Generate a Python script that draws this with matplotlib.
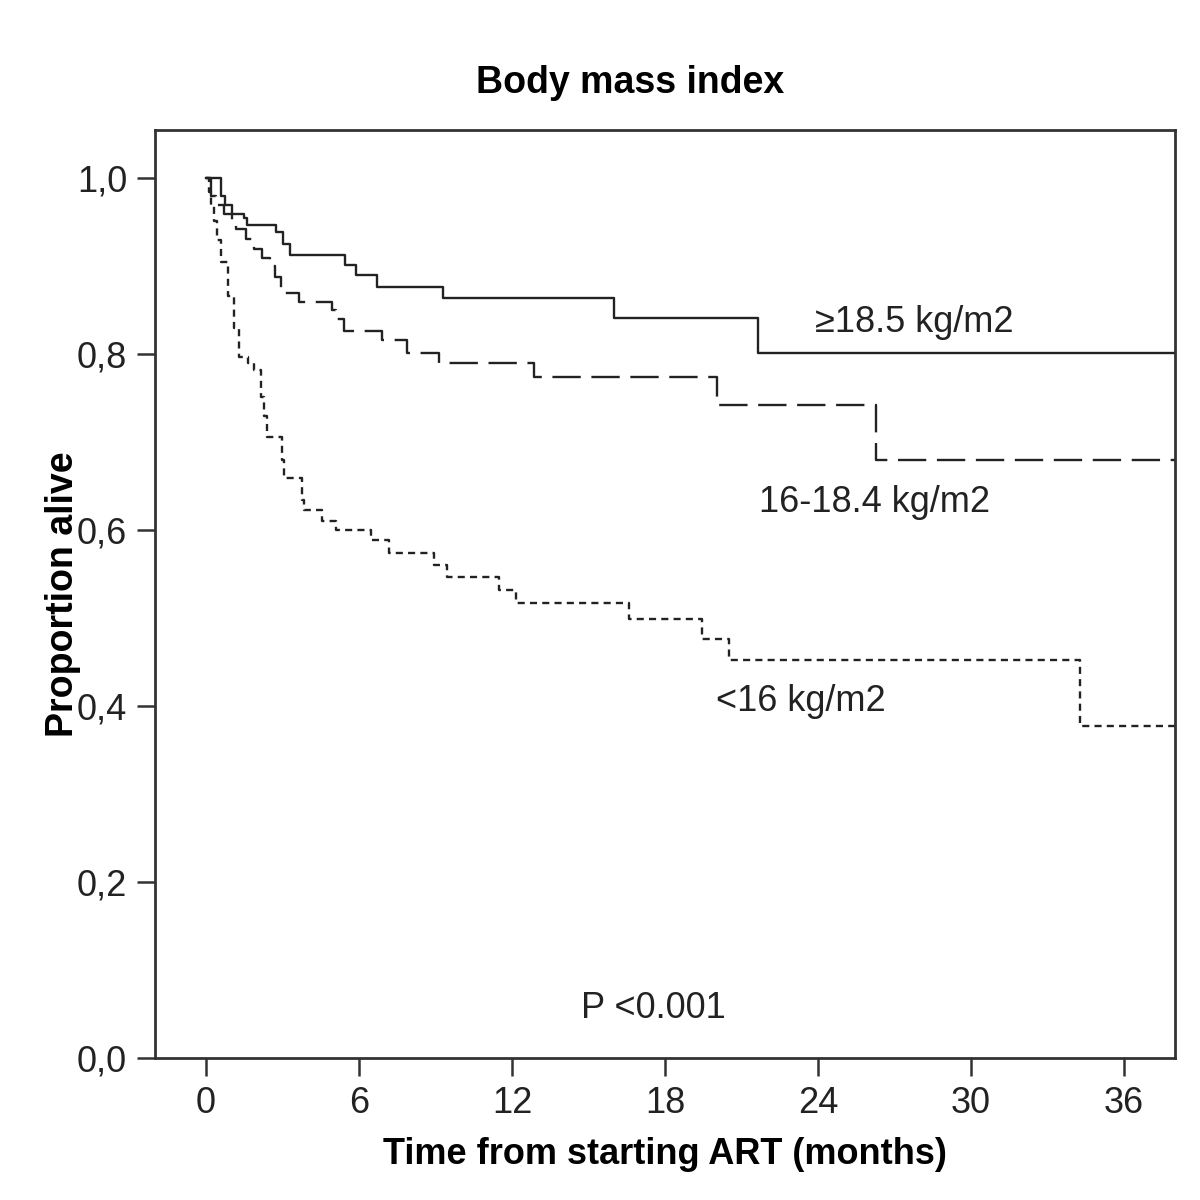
import matplotlib.pyplot as plt

plt.rcParams['font.family'] = ['Liberation Sans', 'DejaVu Sans']

# Kaplan-Meier step data (months, proportion alive)
t_high = [0, 0.6, 0.75, 1.0, 1.5, 1.6, 2.75, 3.0, 3.3, 5.45, 5.9, 6.7, 9.3, 16.0, 21.65, 38]
s_high = [1.0, 0.98, 0.97, 0.96, 0.955, 0.947, 0.939, 0.925, 0.9125, 0.902, 0.890, 0.877, 0.864, 0.841, 0.801, 0.801]

t_mid = [0, 0.2, 0.4, 0.7, 1.0, 1.18, 1.57, 1.9, 2.2, 2.5, 2.7, 2.95, 3.65, 4.94, 5.1, 5.41,
         6.9, 7.88, 9.14, 12.86, 20.04, 26.27, 38]
s_mid = [1.0, 0.98, 0.97, 0.96, 0.95, 0.942, 0.931, 0.92, 0.91, 0.90, 0.888, 0.870, 0.859, 0.85, 0.84, 0.826,
         0.816, 0.802, 0.790, 0.774, 0.742, 0.680, 0.680]

t_low = [0, 0.1, 0.2, 0.31, 0.45, 0.6, 0.86, 1.1, 1.29, 1.65, 1.88, 2.16, 2.27, 2.39, 2.98, 3.06,
         3.76, 3.84, 4.55, 5.1, 6.47, 7.18, 8.94, 9.45, 11.49, 12.16, 16.59, 19.45, 20.5, 34.27, 38]
s_low = [1.0, 0.985, 0.97, 0.952, 0.93, 0.905, 0.866, 0.83, 0.797, 0.79, 0.782, 0.751, 0.73, 0.706, 0.68, 0.659,
         0.634, 0.623, 0.611, 0.600, 0.589, 0.574, 0.560, 0.547, 0.532, 0.517, 0.499, 0.476, 0.452, 0.377, 0.377]

xticks = [0, 6, 12, 18, 24, 30, 36]
yticks = [0.0, 0.2, 0.4, 0.6, 0.8, 1.0]
ytick_labels = ['0,0', '0,2', '0,4', '0,6', '0,8', '1,0']

fig = plt.figure(figsize=(12, 12), dpi=100)
ax = fig.add_axes([155 / 1200, 1 - 1058 / 1200, 1020 / 1200, 928 / 1200])

line_col = '#222222'
ax.step(t_high, s_high, where='post', color=line_col, lw=1.7)
ax.step(t_mid, s_mid, where='post', color=line_col, lw=1.7, dashes=(12, 4.5))
ax.step(t_low, s_low, where='post', color=line_col, lw=1.7, dashes=(3, 2.2))

ax.set_xlim(-2, 38)
ax.set_ylim(0, 1.055)
ax.set_xticks(xticks)
ax.set_yticks(yticks)
ax.set_yticklabels(ytick_labels)
ax.tick_params(direction='out', length=13, width=1.8, labelsize=26, color='#333333', pad=7,
               labelcolor='#222222')

for sp in ax.spines.values():
    sp.set_linewidth(2)
    sp.set_color('#333333')

ax.set_xlabel('Time from starting ART (months)', fontsize=26, fontweight='bold', labelpad=12)
ax.set_ylabel('Proportion alive', fontsize=27, fontweight='bold', labelpad=-3)
fig.text(630 / 1200, 1 - 83 / 1200, 'Body mass index', fontsize=27, fontweight='bold',
         ha='center', va='center')

ax.text(23.9, 0.836, '\u226518.5 kg/m2', fontsize=26, va='center', ha='left', color='#222222')
ax.text(21.7, 0.632, '16-18.4 kg/m2', fontsize=26, va='center', ha='left', color='#222222')
ax.text(20.0, 0.405, '<16 kg/m2', fontsize=26, va='center', ha='left', color='#222222')
ax.text(14.7, 0.056, 'P <0.001', fontsize=26, va='center', ha='left', color='#222222')

fig.savefig('out.png', dpi=100)
